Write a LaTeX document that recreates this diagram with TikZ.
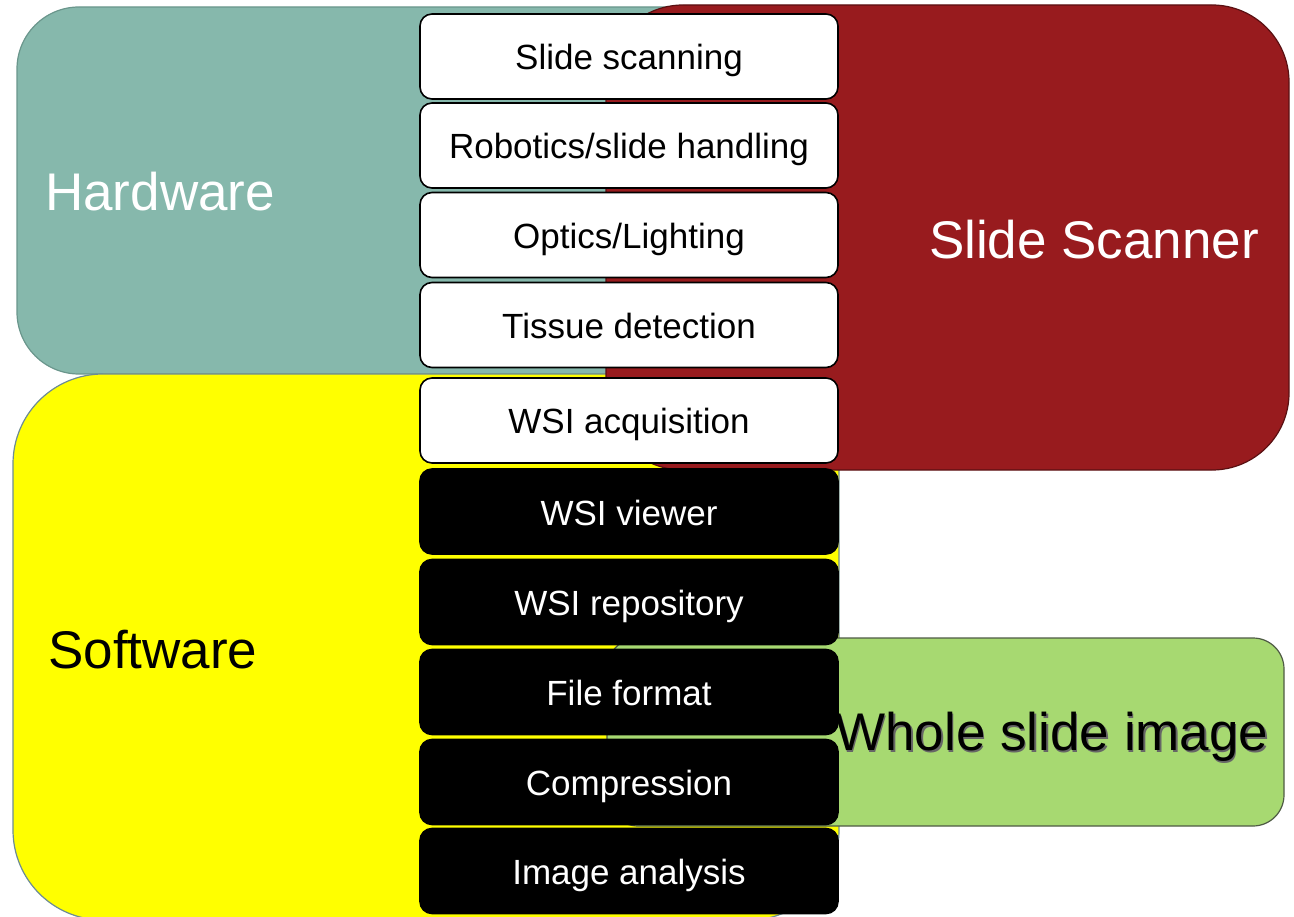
\documentclass[tikz,border=0pt]{standalone}
\usepackage{fontspec}
\setmainfont{Liberation Sans}
\begin{document}
\begin{tikzpicture}[x=1pt,y=-1pt,
  bigtext/.style={font=\fontsize{53}{60}\selectfont, inner sep=0pt},
  whitebox/.style={draw=black, line width=1.6pt, fill=white, rounded corners=12pt,
    minimum width=418pt, minimum height=85pt, inner sep=0pt, text=black,
    text height=27pt, text depth=0pt,
    font=\fontsize{35}{42}\selectfont},
  blackbox/.style={whitebox, fill=black, draw=black, text=white}]
\definecolor{hwteal}{HTML}{86B8AC}
\definecolor{hwedge}{HTML}{6A968C}
\definecolor{ssred}{HTML}{981B1E}
\definecolor{ssedge}{HTML}{5A1012}
\definecolor{swyellow}{HTML}{FFFF00}
\definecolor{swedge}{HTML}{6D8C94}
\definecolor{wsigreen}{HTML}{A7D971}
\definecolor{wsiedge}{HTML}{4F5B45}
\useasboundingbox (0,0) rectangle (1294,917);
% big areas
\draw[fill=hwteal, draw=hwedge, line width=1.2pt, rounded corners=62pt] (17,7) rectangle (800,374);
\draw[fill=swyellow, draw=swedge, line width=1.2pt, rounded corners=90pt] (13,374) rectangle (839,920);
\draw[fill=ssred, draw=ssedge, line width=1.2pt, rounded corners=77pt] (606,5) rectangle (1289,470);
\draw[fill=wsigreen, draw=wsiedge, line width=1.2pt, rounded corners=31pt] (607,638) rectangle (1284,826);
% area labels
\node[bigtext, text=white, anchor=west] (hw) at (45,192) {Hardware};
\node[bigtext, text=black, anchor=west] (sw) at (48,650) {Software};
\node[bigtext, text=white] (ss) at (1094,240) {Slide Scanner};
\node[bigtext, text=black!60] (wsish) at (1053.5,738.5) {Whole slide image};
\node[bigtext, text=black] (wsi) at (1052,737) {Whole slide image};
% component boxes
\node[whitebox] (b1) at (629,56.5) {Slide scanning};
\node[whitebox] (b2) at (629,145.5) {Robotics/slide handling};
\node[whitebox] (b3) at (629,235) {Optics/Lighting};
\node[whitebox] (b4) at (629,325) {Tissue detection};
\node[whitebox] (b5) at (629,420.5) {WSI acquisition};
\node[blackbox] (b6) at (629,511.5) {WSI viewer};
\node[blackbox] (b7) at (629,602) {WSI repository};
\node[blackbox] (b8) at (629,692) {File format};
\node[blackbox] (b9) at (629,782) {Compression};
\node[blackbox] (b10) at (629,871) {Image analysis};
\end{tikzpicture}
\end{document}
